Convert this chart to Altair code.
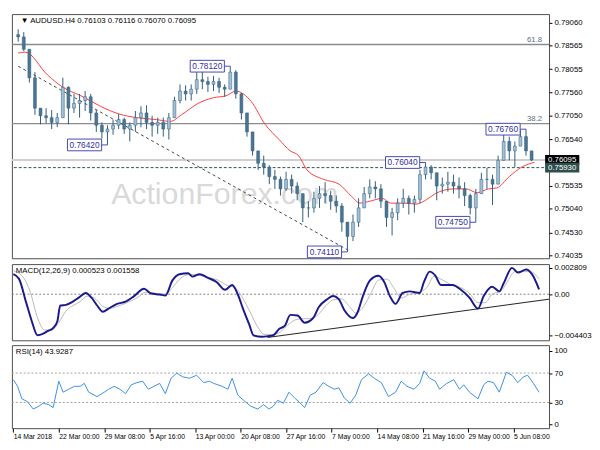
import altair as alt
import pandas as pd

FONT = "Liberation Sans, DejaVu Sans, sans-serif"

# ---------------- price bars (one bar per 4 H4 candles) ----------------
bar_i = list(range(0, 372, 4))
bar_high = [0.78916, 0.78855, 0.78486, 0.77993, 0.77214, 0.77214, 0.77173, 0.77111, 0.77870, 0.77686,
            0.77522, 0.77522, 0.77583, 0.77522, 0.77173, 0.76906, 0.76845, 0.76968, 0.77091, 0.77009,
            0.76906, 0.77152, 0.77255, 0.77276, 0.77050, 0.77009, 0.77009, 0.77111, 0.77460, 0.77727,
            0.77706, 0.77727, 0.77993, 0.78096, 0.77891, 0.77911, 0.77870, 0.77727, 0.78120, 0.78034,
            0.77542, 0.77111, 0.76701, 0.76291, 0.76189, 0.75983, 0.75881, 0.75737, 0.75840, 0.75778,
            0.75614, 0.75368, 0.75204, 0.75409, 0.75532, 0.75614, 0.75430, 0.75327, 0.75163, 0.74753,
            0.74917, 0.75266, 0.75512, 0.75676, 0.75635, 0.75573, 0.75204, 0.75060, 0.75266, 0.75471,
            0.75327, 0.75327, 0.75881, 0.76040, 0.75983, 0.75819, 0.75717, 0.75840, 0.75778, 0.75717,
            0.75614, 0.75368, 0.75471, 0.75819, 0.75922, 0.75778, 0.76189, 0.76763, 0.76599, 0.76496,
            0.76742, 0.76760, 0.76291]
bar_low = [0.78650, 0.78445, 0.77768, 0.77070, 0.76865, 0.76886, 0.76763, 0.76804, 0.77009, 0.76865,
           0.77111, 0.77009, 0.77152, 0.76947, 0.76701, 0.76558, 0.76420, 0.76640, 0.76763, 0.76660,
           0.76496, 0.76701, 0.76804, 0.76763, 0.76599, 0.76660, 0.76599, 0.76537, 0.77009, 0.77317,
           0.77378, 0.77378, 0.77522, 0.77624, 0.77563, 0.77583, 0.77542, 0.77460, 0.77624, 0.77419,
           0.76968, 0.76599, 0.76189, 0.75881, 0.75778, 0.75573, 0.75471, 0.75327, 0.75430, 0.75368,
           0.75225, 0.74753, 0.74855, 0.74958, 0.75060, 0.75163, 0.75019, 0.74958, 0.74548, 0.74110,
           0.74343, 0.74650, 0.75060, 0.75266, 0.75266, 0.75060, 0.74650, 0.74466, 0.74794, 0.75060,
           0.74917, 0.74958, 0.75163, 0.75676, 0.75676, 0.75225, 0.75368, 0.75409, 0.75368, 0.75266,
           0.75101, 0.74917, 0.74750, 0.75368, 0.75471, 0.75122, 0.75573, 0.76086, 0.76086, 0.75942,
           0.76394, 0.76189, 0.76070]
bar_close = [0.78752, 0.78486, 0.77870, 0.77214, 0.77050, 0.77009, 0.76906, 0.77009, 0.77665, 0.77214,
             0.77317, 0.77378, 0.77460, 0.77111, 0.76845, 0.76701, 0.76763, 0.76845, 0.76968, 0.76763,
             0.76845, 0.77009, 0.77111, 0.76906, 0.76845, 0.76906, 0.76763, 0.77009, 0.77378, 0.77583,
             0.77522, 0.77624, 0.77829, 0.77788, 0.77727, 0.77788, 0.77665, 0.77624, 0.77993, 0.77522,
             0.77111, 0.76701, 0.76291, 0.76024, 0.75942, 0.75737, 0.75676, 0.75471, 0.75676, 0.75532,
             0.75368, 0.75060, 0.75060, 0.75266, 0.75368, 0.75327, 0.75204, 0.75101, 0.74753, 0.74445,
             0.74753, 0.75060, 0.75368, 0.75512, 0.75471, 0.75204, 0.74855, 0.74958, 0.75163, 0.75266,
             0.75163, 0.75245, 0.75778, 0.75942, 0.75819, 0.75532, 0.75573, 0.75614, 0.75532, 0.75471,
             0.75327, 0.75060, 0.75368, 0.75676, 0.75676, 0.75573, 0.76086, 0.76496, 0.76291, 0.76394,
             0.76599, 0.76291, 0.76095]
first_open = 0.78800

# moving average (red)
ma_i = [0, 5, 21, 32, 45, 59, 72, 85, 99, 109, 117, 129, 140, 149, 156, 167, 177, 187, 195, 201,
        207, 219, 230, 239, 245, 252, 261, 267, 277, 285, 292, 299, 312, 321, 329, 337, 343, 352, 361, 370]
ma_v = [0.78404, 0.78424, 0.77932, 0.77665, 0.77481, 0.77255, 0.77091, 0.77009, 0.76968, 0.76927,
        0.77070, 0.77317, 0.77440, 0.77481, 0.77583, 0.77358, 0.76865, 0.76537, 0.76291, 0.76189,
        0.75881, 0.75676, 0.75573, 0.75307, 0.75163, 0.75204, 0.75266, 0.75163, 0.75163, 0.75142,
        0.75225, 0.75368, 0.75471, 0.75471, 0.75389, 0.75471, 0.75491, 0.75737, 0.75942, 0.76045]

# MACD
macd_i = [0, 4, 9, 13, 17, 21, 24, 28, 31, 33, 37, 41, 46, 51, 55, 59, 63, 67, 73, 79,
          85, 92, 97, 103, 107, 112, 117, 123, 126, 131, 137, 143, 149, 154, 158, 162, 166, 169, 175, 179,
          183, 187, 191, 195, 200, 205, 211, 215, 221, 225, 229, 233, 239, 242, 246, 251, 257, 261, 265, 269,
          274, 279, 286, 289, 293, 297, 301, 309, 315, 321, 327, 331, 337, 342, 345, 351, 355, 361, 365, 370]
macd_v = [0.00213, 0.00163, -0.00087, -0.00287, -0.00437, -0.00420, -0.00393, -0.00360, -0.00287, -0.00120,
          -0.00113, -0.00087, -0.00037, 0.00013, -0.00037, -0.00120, -0.00187, -0.00153, -0.00103, -0.00080,
          -0.00020, 0.00057, 0.00007, -0.00003, -0.00013, 0.00147, 0.00213, 0.00223, 0.00187, 0.00213,
          0.00173, 0.00130, 0.00047, 0.00097, -0.00003, -0.00170, -0.00320, -0.00437, -0.00453, -0.00447,
          -0.00437, -0.00370, -0.00337, -0.00220, -0.00227, -0.00303, -0.00253, -0.00137, -0.00053, -0.00020,
          -0.00053, -0.00170, -0.00253, -0.00203, -0.00020, 0.00147, 0.00197, 0.00130, -0.00020, -0.00103,
          0.00013, 0.00030, 0.00013, 0.00130, 0.00240, 0.00197, 0.00097, 0.00097, 0.00047, -0.00037,
          -0.00153, -0.00020, 0.00080, 0.00030, 0.00113, 0.00280, 0.00230, 0.00263, 0.00213, 0.00052]
sig_i = [0, 7, 12, 17, 22, 27, 32, 37, 42, 47, 52, 57, 63, 68, 73, 80, 87, 93, 100, 107,
         112, 117, 124, 131, 137, 144, 151, 156, 161, 167, 172, 177, 183, 188, 193, 199, 204, 209, 215, 220,
         225, 231, 236, 241, 247, 252, 257, 263, 268, 273, 279, 285, 291, 296, 301, 308, 315, 321, 327, 332,
         337, 343, 348, 353, 359, 364, 370]
sig_v = [0.0025, 0.0018, 0.0002, -0.0025, -0.0038, -0.0038, -0.0030, -0.0018, -0.0012, -0.0008,
         -0.0002, -0.0004, -0.0013, -0.0015, -0.0013, -0.0009, -0.0004, 0.0002, 0.0001, 0.0000,
         0.0007, 0.0016, 0.0021, 0.0020, 0.0018, 0.0015, 0.0009, 0.0007, -0.0003, -0.0020,
         -0.0035, -0.0043, -0.0043, -0.0040, -0.0033, -0.0027, -0.0026, -0.0026, -0.0021, -0.0012,
         -0.0006, -0.0005, -0.0012, -0.0020, -0.0012, 0.0002, 0.0015, 0.0016, 0.0006, -0.0004,
         0.0000, 0.0002, 0.0007, 0.0019, 0.0016, 0.0010, 0.0007, 0.0001, -0.0009, -0.0009,
         0.0000, 0.0003, 0.0014, 0.0024, 0.0024, 0.0024, 0.0016]

# RSI
rsi_i = [0, 3, 6, 10, 14, 18, 21, 25, 28, 32, 35, 39, 43, 47, 50, 53, 59, 64, 67, 71,
         75, 79, 83, 87, 91, 95, 99, 103, 107, 111, 115, 119, 124, 129, 134, 138, 141, 147, 151, 154,
         158, 162, 167, 172, 176, 180, 183, 186, 190, 194, 198, 201, 205, 209, 213, 218, 222, 226, 229, 233,
         237, 241, 245, 250, 254, 259, 264, 269, 273, 277, 282, 286, 289, 293, 297, 300, 305, 310, 314, 317,
         321, 327, 331, 334, 338, 342, 347, 351, 355, 359, 362, 366, 370]
rsi_v = [61, 52, 35, 31, 21, 25, 29, 27, 23, 59, 44, 48, 52, 52, 56, 44, 38, 44, 48, 52,
         48, 42, 54, 57, 59, 48, 52, 56, 42, 63, 70, 65, 63, 67, 57, 59, 56, 52, 48, 63,
         40, 33, 25, 21, 27, 21, 25, 33, 29, 44, 36, 31, 23, 40, 44, 57, 52, 48, 50, 36,
         29, 40, 61, 69, 63, 57, 38, 44, 59, 52, 48, 56, 73, 63, 59, 48, 56, 61, 48, 54,
         44, 35, 54, 59, 57, 44, 71, 67, 57, 65, 67, 56, 43.93]

# annotations / levels
price_ticks = [0.79060, 0.78565, 0.78055, 0.77560, 0.77050, 0.76540, 0.75535, 0.75040, 0.74530, 0.74035]
fib_levels = [0.78590, 0.76880]
fib_names = ["61.8", "38.2"]
last_price = 0.76095
level_price = 0.75930
peak_i = [64, 152, 236, 292, 328, 364]
peak_p = [0.76420, 0.78120, 0.74110, 0.76040, 0.74750, 0.76760]
trend_i = [0, 237]
trend_p = [0.7812, 0.7414]
macd_trend_i = [179, 377]
macd_trend_v = [-0.0046, -0.00053]
macd_ticks = [0.002809, 0.0, -0.004403]
rsi_ticks = [0, 30, 70, 100]
rsi_levels = [30, 70]
x_tick_i = [0, 32, 64, 96, 128, 160, 192, 224, 256, 288, 320, 352]
x_tick_labels = ["14 Mar 2018", "22 Mar 00:00", "29 Mar 08:00", "5 Apr 16:00", "13 Apr 00:00",
                 "20 Apr 08:00", "27 Apr 16:00", "7 May 00:00", "14 May 08:00", "21 May 16:00",
                 "29 May 00:00", "5 Jun 08:00"]
header_main = "\u25BC AUDUSD.H4  0.76103 0.76116 0.76070 0.76095"
header_macd = "MACD(12,26,9) 0.000523 0.001558"
header_rsi = "RSI(14) 43.9287"
watermark = "ActionForex.com"

# ---------------- geometry ----------------
W = 550
H_MAIN, H_MACD, H_RSI = 250, 78, 85
X_MIN, X_MAX = -1, 377
P_MIN, P_MAX = 0.73973, 0.79245
M_MIN, M_MAX = -0.0049, 0.0032
R_MIN, R_MAX = -5, 108

xsc = alt.Scale(domain=[X_MIN, X_MAX], nice=False, zero=False)


def xenc(f="i"):
    return alt.X(f"{f}:Q", scale=xsc, axis=None, title=None)


# ---------------- main panel ----------------
ysc_main = alt.Scale(domain=[P_MIN, P_MAX], nice=False, zero=False)
yax_main = alt.Axis(orient="right", values=price_ticks, format=".5f", tickSize=3, labelFontSize=8,
                    labelFont=FONT, labelColor="black", tickColor="black", domain=False, grid=False,
                    labelPadding=2, labelOverlap=False, title=None)


def ym(f):
    return alt.Y(f"{f}:Q", scale=ysc_main, axis=yax_main, title=None)


bar_open = [first_open] + bar_close[:-1]
candles = pd.DataFrame({"i": bar_i, "o": bar_open, "h": bar_high, "l": bar_low, "c": bar_close})
ma_df = pd.DataFrame({"i": ma_i, "p": ma_v})
fib_df = pd.DataFrame({"i": [X_MAX] * 2, "p": fib_levels, "t": fib_names})
lines_df = pd.DataFrame({"p": [last_price]})
level_df = pd.DataFrame({"p": [level_price]})
trend_df = pd.DataFrame({"i": trend_i, "p": trend_p})
peaks_df = pd.DataFrame({"i": peak_i, "p": peak_p, "t": [f"{v:.5f}" for v in peak_p]})
tags_df = pd.DataFrame({"i": [X_MAX, X_MAX], "p": [last_price, level_price],
                        "t": [f"{last_price:.5f}", f"{level_price:.5f}"], "bg": ["#000000", "#2f4f4f"]})
wm_df = pd.DataFrame({"i": [148], "p": [0.7533], "t": [watermark]})
head_df = pd.DataFrame({"i": [X_MIN], "p": [P_MAX], "t": [header_main]})

base_main = alt.Chart(candles)

wm = alt.Chart(wm_df).mark_text(fontSize=31, font=FONT, color="#d9d9d9", align="center",
                                 baseline="middle").encode(x=xenc(), y=ym("p"), text="t:N")
fib = alt.Chart(fib_df).mark_rule(color="#8c8c8c", strokeWidth=1.5).encode(y=ym("p"))
fib_txt = alt.Chart(fib_df).mark_text(fontSize=8, font=FONT, color="#5b6f80", align="right",
                                      baseline="bottom", dx=-2, dy=-1).encode(x=xenc(), y=ym("p"), text="t:N")
lastline = alt.Chart(lines_df).mark_rule(color="#cfcfcf", strokeWidth=2).encode(y=ym("p"))
levline = alt.Chart(level_df).mark_rule(color="#2f4f4f", strokeWidth=1, strokeDash=[3, 2]).encode(y=ym("p"))
trend = alt.Chart(trend_df).mark_line(color="#444444", strokeWidth=1, strokeDash=[3, 3]).encode(
    x=xenc(), y=ym("p"))
ma = alt.Chart(ma_df).mark_line(color="#ff3b3b", strokeWidth=1, interpolate="monotone").encode(
    x=xenc(), y=ym("p"))
wick = base_main.mark_rule(color="#2f5b79", strokeWidth=1).encode(x=xenc(), y=ym("l"), y2="h:Q")
body = base_main.mark_bar(size=3, stroke="#2f5b79", strokeWidth=0.5).encode(
    x=xenc(), y=ym("o"), y2="c:Q",
    color=alt.condition("datum.c >= datum.o", alt.value("#a3c1d6"), alt.value("#4a7694")))
conn = alt.Chart(peaks_df).mark_rule(color="#4646b4", xOffset=-6, x2Offset=0).encode(
    x=xenc(), x2="i:Q", y=ym("p"))
box = alt.Chart(peaks_df).mark_rect(fill="white", stroke="#4646b4", strokeWidth=1,
                                    xOffset=-41, x2Offset=-6, yOffset=-6, y2Offset=6).encode(
    x=xenc(), x2="i:Q", y=ym("p"), y2="p:Q")
box_txt = alt.Chart(peaks_df).mark_text(fontSize=8.5, font=FONT, color="#3030a0", align="center",
                                        baseline="middle", dx=-23.5).encode(x=xenc(), y=ym("p"), text="t:N")
tag_box = alt.Chart(tags_df).mark_rect(xOffset=1, x2Offset=36, yOffset=-5, y2Offset=5).encode(
    x=xenc(), x2="i:Q", y=ym("p"), y2="p:Q", color=alt.Color("bg:N", scale=None))
tag_txt = alt.Chart(tags_df).mark_text(fontSize=8, font=FONT, color="white", align="left",
                                       baseline="middle", dx=4).encode(x=xenc(), y=ym("p"), text="t:N")
head = alt.Chart(head_df).mark_text(fontSize=8, font=FONT, color="black", align="left",
                                    baseline="top", dx=4, dy=3).encode(x=xenc(), y=ym("p"), text="t:N")

main = alt.layer(wm, fib, fib_txt, lastline, levline, trend, ma, wick, body, conn, box, box_txt,
                 tag_box, tag_txt, head).properties(width=W, height=H_MAIN)

# ---------------- MACD panel ----------------
ysc_macd = alt.Scale(domain=[M_MIN, M_MAX], nice=False, zero=False)
yax_macd = alt.Axis(orient="right", values=macd_ticks,
                    labelExpr="datum.value == 0 ? '0.00' : format(datum.value, '.6f')",
                    tickSize=3, labelFontSize=8, labelFont=FONT, labelColor="black", tickColor="black",
                    domain=False, grid=False, labelPadding=2, labelOverlap=False, title=None)


def ymc(f):
    return alt.Y(f"{f}:Q", scale=ysc_macd, axis=yax_macd, title=None)


macd_df = pd.DataFrame({"i": macd_i, "v": macd_v})
sig_df = pd.DataFrame({"i": sig_i, "v": sig_v})
mtrend_df = pd.DataFrame({"i": macd_trend_i, "v": macd_trend_v})
zero_df = pd.DataFrame({"v": [0.0]})
mhead_df = pd.DataFrame({"i": [X_MIN], "v": [M_MAX], "t": [header_macd]})

zero_line = alt.Chart(zero_df).mark_rule(color="#808080", strokeDash=[2, 2]).encode(y=ymc("v"))
sig_line = alt.Chart(sig_df).mark_line(color="#b8b8b8", strokeWidth=1, interpolate="monotone").encode(
    x=xenc(), y=ymc("v"))
macd_line = alt.Chart(macd_df).mark_line(color="#1a1a8e", strokeWidth=2, interpolate="monotone").encode(
    x=xenc(), y=ymc("v"))
mtrend = alt.Chart(mtrend_df).mark_line(color="#202020", strokeWidth=1).encode(x=xenc(), y=ymc("v"))
mhead = alt.Chart(mhead_df).mark_text(fontSize=8, font=FONT, color="black", align="left",
                                      baseline="top", dx=4, dy=3).encode(x=xenc(), y=ymc("v"), text="t:N")
macd_panel = alt.layer(zero_line, sig_line, mtrend, macd_line, mhead).properties(width=W, height=H_MACD)

# ---------------- RSI panel ----------------
ysc_rsi = alt.Scale(domain=[R_MIN, R_MAX], nice=False, zero=False)
yax_rsi = alt.Axis(orient="right", values=rsi_ticks, format="d", tickSize=3, labelFontSize=8,
                   labelFont=FONT, labelColor="black", tickColor="black", domain=False, grid=False,
                   labelPadding=2, title=None)
x_expr = "[" + ",".join(f"'{s}'" for s in x_tick_labels) + "][round(datum.value / 32)]"
xax_rsi = alt.Axis(values=x_tick_i, labelExpr=x_expr, labelAlign="left", labelFontSize=7, labelFont=FONT,
                   labelColor="black", tickColor="black", tickSize=4, domain=False, grid=False,
                   labelPadding=1, labelOverlap=False, labelFlush=False, title=None)


def yr(f):
    return alt.Y(f"{f}:Q", scale=ysc_rsi, axis=yax_rsi, title=None)


rsi_df = pd.DataFrame({"i": rsi_i, "v": rsi_v})
rlev_df = pd.DataFrame({"v": rsi_levels})
rhead_df = pd.DataFrame({"i": [X_MIN], "v": [R_MAX], "t": [header_rsi]})

rlev = alt.Chart(rlev_df).mark_rule(color="#a0a0a0", strokeDash=[2, 2]).encode(y=yr("v"))
rsi_line = alt.Chart(rsi_df).mark_line(color="#3a8ee6", strokeWidth=1).encode(
    x=alt.X("i:Q", scale=xsc, axis=xax_rsi, title=None), y=yr("v"))
rhead = alt.Chart(rhead_df).mark_text(fontSize=8, font=FONT, color="black", align="left",
                                      baseline="top", dx=4, dy=3).encode(
    x=alt.X("i:Q", scale=xsc, axis=xax_rsi, title=None), y=yr("v"), text="t:N")
rsi_panel = alt.layer(rlev, rsi_line, rhead).properties(width=W, height=H_RSI)

chart = alt.vconcat(main, macd_panel, rsi_panel, spacing=3).properties(
    padding=0, background="white"
).configure_view(stroke="#4d4d4d", strokeWidth=1)

chart.save("out.html", embed_options={"renderer": "svg", "actions": False})
